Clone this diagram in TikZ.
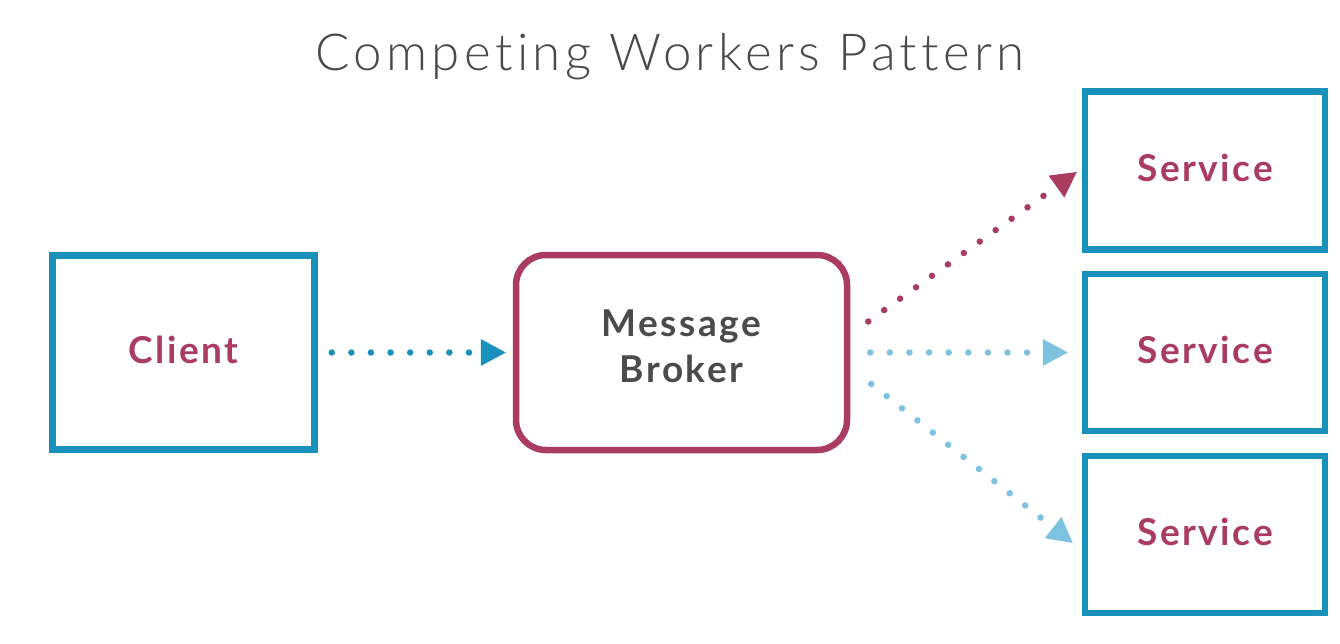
\documentclass[tikz,border=0pt]{standalone}
\usepackage{fontspec}
\setmainfont{Lato}[Ligatures=NoCommon]
\newfontfamily\titlefont{Lato Light}[Ligatures=NoCommon, LetterSpace=8.5]
\newfontfamily\labelfont{Lato}[Ligatures=NoCommon, LetterSpace=7]
\usetikzlibrary{arrows.meta}
\definecolor{tealc}{HTML}{1A91BA}
\definecolor{crim}{HTML}{A93C5F}
\definecolor{lblue}{HTML}{7DC3E0}
\definecolor{txtgray}{HTML}{4B4B4D}
\definecolor{titlegray}{HTML}{4A4A4A}
\begin{document}
\begin{tikzpicture}[x=1pt,y=-1pt,
  sqbox/.style={draw=tealc, line width=6.5pt, rectangle, inner sep=0pt,
    text=crim, font=\labelfont\fontsize{37}{44}\selectfont\bfseries, text depth=5pt},
  brokerbox/.style={draw=crim, line width=6.5pt, rectangle, rounded corners=30pt,
    inner sep=0pt, minimum width=331pt, minimum height=195pt, align=center,
    text=txtgray, font=\labelfont\fontsize{37}{46}\selectfont\bfseries, text depth=12pt},
  dotline/.style={line width=6.5pt, line cap=round, dash pattern=on 0pt off 19.6pt,
    -{Triangle[length=25pt,width=27pt,line width=0pt]}},
]
\useasboundingbox[fill=white] (0,0) rectangle (1340,643);

\node[anchor=base, text=titlegray, font=\titlefont\fontsize{51}{60}\selectfont]
  (title) at (670,70) {Competing Workers Pattern};

\node[sqbox, minimum width=262pt, minimum height=194pt] (client) at (183.5,352.5) {Client};
\node[brokerbox] (broker) at (681.5,352.5) {Message\\Broker};
\node[sqbox, minimum width=240pt, minimum height=158pt] (s1) at (1205,170.5) {Service};
\node[sqbox, minimum width=240pt, minimum height=157pt] (s2) at (1205,352.5) {Service};
\node[sqbox, minimum width=240pt, minimum height=157pt] (s3) at (1205,534.5) {Service};

\draw[dotline, tealc] ([xshift=14pt]client.east) -- ([xshift=-7pt]broker.west);
\draw[dotline, crim] ([shift={(18pt,31pt)}]broker.east) -- ([shift={(-5pt,-1.5pt)}]s1.west);
\draw[dotline, lblue] ([xshift=20pt]broker.east) -- ([xshift=-14pt]s2.west);
\draw[dotline, lblue] ([shift={(21pt,-31.5pt)}]broker.east) -- ([shift={(-9pt,-8.5pt)}]s3.west);
\end{tikzpicture}
\end{document}
